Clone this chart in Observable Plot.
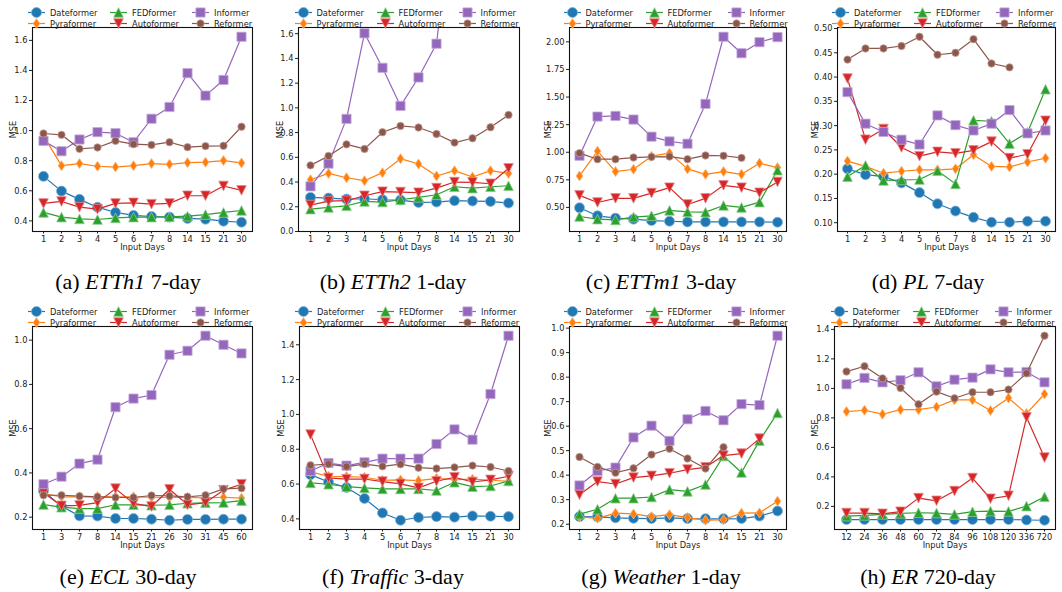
<!DOCTYPE html>
<html><head><meta charset="utf-8">
<script src="https://cdn.jsdelivr.net/npm/d3@7"></script>
<script src="https://cdn.jsdelivr.net/npm/@observablehq/plot@0.6"></script>
<style>
body{margin:0;background:#fff;}
#root{position:relative;width:1062px;height:592px;overflow:hidden;background:#fff;}
.panel{position:absolute;}
.legend{position:absolute;display:grid;grid-auto-flow:column;grid-template-rows:11px 11px;grid-template-columns:82px 82px 70px;font-family:"DejaVu Sans Condensed","DejaVu Sans",sans-serif;font-size:9.2px;color:#222;}
.legend .item{display:flex;align-items:center;white-space:nowrap;height:11px;}
.legend svg{margin-right:5px;overflow:visible;flex:none;}
.cap{position:absolute;font-family:"Liberation Serif","Times New Roman",serif;font-size:22px;line-height:22px;white-space:nowrap;transform:translateX(-50%);color:#000;}
</style></head><body><div id="root"></div>
<script>
// ---------- categories ----------
const seriesNames = ["Dateformer","Pyraformer","FEDformer","Autoformer","Informer","Reformer"];
const seriesColors = ["#1f77b4","#ff7f0e","#2ca02c","#d62728","#9467bd","#8c564b"];
const xDays = ["1","2","3","4","5","6","7","8","14","15","21","30"];
const xECL = ["1","3","7","8","14","15","21","26","30","31","45","60"];
const xER = ["12","24","36","48","60","72","84","96","108","120","336","720"];
const capLabels = ["(a)","(b)","(c)","(d)","(e)","(f)","(g)","(h)"];
const capNames = ["ETTh1","ETTh2","ETTm1","PL","ECL","Traffic","Weather","ER"];
const capHorizons = ["7-day","1-day","3-day","7-day","30-day","3-day","1-day","720-day"];

// ---------- values (MSE) ----------
const etth1_Dateformer = [0.696,0.598,0.543,0.491,0.456,0.436,0.429,0.425,0.416,0.411,0.398,0.391];
const etth1_Pyraformer = [0.965,0.767,0.781,0.763,0.758,0.767,0.781,0.776,0.787,0.790,0.801,0.785];
const etth1_FEDformer = [0.456,0.425,0.413,0.409,0.420,0.425,0.425,0.427,0.431,0.442,0.456,0.469];
const etth1_Autoformer = [0.516,0.529,0.491,0.478,0.516,0.520,0.511,0.516,0.567,0.567,0.632,0.603];
const etth1_Informer = [0.932,0.863,0.941,0.990,0.983,0.923,1.079,1.157,1.382,1.233,1.337,1.624];
const etth1_Reformer = [0.981,0.972,0.879,0.888,0.932,0.910,0.905,0.923,0.890,0.897,0.899,1.026];

const etth2_Dateformer = [0.276,0.270,0.262,0.265,0.257,0.254,0.235,0.238,0.249,0.246,0.243,0.230];
const etth2_Pyraformer = [0.419,0.470,0.435,0.411,0.476,0.589,0.546,0.449,0.492,0.441,0.492,0.470];
const etth2_FEDformer = [0.181,0.195,0.208,0.243,0.238,0.257,0.276,0.297,0.362,0.351,0.362,0.370];
const etth2_Autoformer = [0.214,0.246,0.249,0.289,0.322,0.319,0.314,0.351,0.400,0.397,0.386,0.511];
const etth2_Informer = [0.365,0.549,0.911,1.603,1.324,1.016,1.246,1.519,2.75,2.55,2.85,3.10];
const etth2_Reformer = [0.535,0.611,0.705,0.668,0.803,0.854,0.841,0.789,0.719,0.754,0.843,0.943];

const ettm1_Dateformer = [0.497,0.424,0.403,0.394,0.381,0.375,0.369,0.369,0.369,0.369,0.369,0.366];
const ettm1_Pyraformer = [0.785,1.010,0.825,0.846,0.964,0.992,0.849,0.800,0.825,0.800,0.901,0.861];
const ettm1_FEDformer = [0.418,0.394,0.387,0.412,0.424,0.473,0.460,0.457,0.518,0.500,0.548,0.837];
const ettm1_Autoformer = [0.609,0.545,0.582,0.582,0.630,0.679,0.527,0.582,0.700,0.679,0.633,0.731];
const ettm1_Informer = [0.968,1.323,1.329,1.296,1.141,1.098,1.077,1.438,2.046,1.897,1.997,2.043];
const ettm1_Reformer = [0.992,0.937,0.937,0.952,0.958,0.961,0.937,0.971,0.968,0.949];

const pl_Dateformer = [0.211,0.199,0.195,0.182,0.162,0.139,0.124,0.111,0.101,0.101,0.103,0.103];
const pl_Pyraformer = [0.227,0.216,0.202,0.206,0.209,0.209,0.211,0.240,0.216,0.215,0.225,0.233];
const pl_FEDformer = [0.195,0.218,0.187,0.188,0.189,0.207,0.180,0.311,0.309,0.263,0.286,0.375];
const pl_Autoformer = [0.397,0.271,0.293,0.255,0.237,0.246,0.243,0.249,0.267,0.233,0.241,0.310];
const pl_Informer = [0.369,0.304,0.287,0.271,0.261,0.321,0.301,0.290,0.304,0.332,0.284,0.290];
const pl_Reformer = [0.436,0.459,0.459,0.464,0.483,0.446,0.450,0.478,0.428,0.420];

const ecl_Dateformer = [0.319,0.249,0.206,0.205,0.194,0.194,0.191,0.186,0.190,0.190,0.191,0.191];
const ecl_Pyraformer = [0.307,0.292,0.292,0.293,0.292,0.292,0.290,0.289,0.289,0.287,0.290,0.286];
const ecl_FEDformer = [0.257,0.245,0.239,0.239,0.256,0.256,0.254,0.256,0.263,0.265,0.266,0.275];
const ecl_Autoformer = [0.310,0.251,0.253,0.266,0.329,0.262,0.248,0.326,0.256,0.266,0.322,0.349];
const ecl_Informer = [0.349,0.383,0.442,0.460,0.697,0.736,0.752,0.934,0.952,1.020,0.979,0.940];
const ecl_Reformer = [0.299,0.299,0.295,0.292,0.289,0.289,0.298,0.296,0.292,0.299,0.328,0.331];

const traffic_Dateformer = [0.654,0.612,0.580,0.517,0.434,0.392,0.408,0.413,0.410,0.417,0.415,0.413];
const traffic_Pyraformer = [0.670,0.645,0.643,0.639,0.622,0.624,0.620,0.633,0.626,0.628,0.622,0.616];
const traffic_FEDformer = [0.607,0.599,0.585,0.578,0.572,0.572,0.572,0.563,0.610,0.585,0.589,0.618];
const traffic_Autoformer = [0.884,0.635,0.628,0.629,0.614,0.601,0.578,0.616,0.639,0.612,0.624,0.645];
const traffic_Informer = [0.675,0.721,0.706,0.725,0.746,0.746,0.746,0.830,0.914,0.855,1.117,1.452];
const traffic_Reformer = [0.708,0.715,0.700,0.715,0.702,0.714,0.694,0.689,0.696,0.706,0.698,0.675];

const weather_Dateformer = [0.231,0.230,0.226,0.224,0.223,0.226,0.223,0.222,0.222,0.223,0.233,0.254];
const weather_Pyraformer = [0.230,0.224,0.245,0.242,0.231,0.239,0.227,0.216,0.218,0.245,0.246,0.294];
const weather_FEDformer = [0.241,0.261,0.306,0.306,0.311,0.341,0.334,0.362,0.478,0.411,0.541,0.654];
const weather_Autoformer = [0.320,0.374,0.364,0.390,0.397,0.408,0.423,0.432,0.480,0.488,0.549];
const weather_Informer = [0.358,0.417,0.431,0.554,0.602,0.540,0.628,0.662,0.624,0.690,0.686,0.969];
const weather_Reformer = [0.474,0.434,0.410,0.428,0.484,0.508,0.468,0.427,0.514];

const er_Dateformer = [0.111,0.111,0.111,0.111,0.111,0.111,0.111,0.111,0.111,0.111,0.108,0.106];
const er_Pyraformer = [0.843,0.852,0.825,0.856,0.856,0.874,0.922,0.922,0.850,0.935,0.829,0.962];
const er_FEDformer = [0.134,0.139,0.146,0.153,0.157,0.155,0.146,0.164,0.168,0.166,0.202,0.265];
const er_Autoformer = [0.155,0.155,0.150,0.164,0.256,0.238,0.304,0.392,0.252,0.272,0.804,0.531];
const er_Informer = [1.028,1.071,1.041,1.055,1.109,1.014,1.059,1.073,1.129,1.109,1.111,1.041];
const er_Reformer = [1.114,1.150,1.068,1.003,0.892,0.978,0.933,0.974,0.974,0.992,1.102,1.357];

// ---------- tick labels ----------
const ticksETTh1 = [0.4,0.6,0.8,1.0,1.2,1.4,1.6];
const ticksETTh2 = [0,0.2,0.4,0.6,0.8,1.0,1.2,1.4,1.6];
const ticksETTm1 = [0.5,0.75,1.0,1.25,1.5,1.75,2.0];
const ticksPL = [0.10,0.15,0.20,0.25,0.30,0.35,0.40,0.45,0.50];
const ticksECL = [0.2,0.4,0.6,0.8,1.0];
const ticksTraffic = [0.4,0.6,0.8,1.0,1.2,1.4];
const ticksWeather = [0.2,0.3,0.4,0.5,0.6,0.7,0.8,0.9,1.0];
const ticksER = [0.2,0.4,0.6,0.8,1.0,1.2,1.4];

// ---------- layout ----------
const FONT = '"DejaVu Sans Condensed","DejaVu Sans",sans-serif';
const FS = 9.2;
const frameLefts = [32,298,569,837,32,299,569,834];
const frameRights = [252,519,786,1055,252,519,786,1055];
const rowTop = [27,326], rowBottom = [231,529];
const labelOffsets = [19.3,18,21.5,22,19.3,18.5,21,19];
const capCenters = [128,393,661,928];
const capBaselines = [289,584];

const tri = (s, dir) => ({draw(c){ c.moveTo(0,-dir*s); c.lineTo(s,dir*s); c.lineTo(-s,dir*s); c.closePath(); }});
const symbols = [
  {draw(c){ c.moveTo(5,0); c.arc(0,0,5,0,2*Math.PI); }},
  {draw(c){ c.moveTo(0,-5); c.lineTo(3.4,0); c.lineTo(0,5); c.lineTo(-3.4,0); c.closePath(); }},
  tri(4.8,1),
  tri(4.8,-1),
  {draw(c){ c.rect(-4.6,-4.6,9.2,9.2); }},
  {draw(c){ c.moveTo(3.7,0); c.arc(0,0,3.7,0,2*Math.PI); }}
];
const edgeColors = seriesColors.map(c => d3.interpolateRgb(c, "#fff")(0.45));

const panels = [
  {x: xDays, series: [etth1_Dateformer,etth1_Pyraformer,etth1_FEDformer,etth1_Autoformer,etth1_Informer,etth1_Reformer], ticks: ticksETTh1, fmt: ".1f"},
  {x: xDays, series: [etth2_Dateformer,etth2_Pyraformer,etth2_FEDformer,etth2_Autoformer,etth2_Informer,etth2_Reformer], ticks: ticksETTh2, fmt: ".1f", yDomain: [0,1.65]},
  {x: xDays, series: [ettm1_Dateformer,ettm1_Pyraformer,ettm1_FEDformer,ettm1_Autoformer,ettm1_Informer,ettm1_Reformer], ticks: ticksETTm1, fmt: ".2f"},
  {x: xDays, series: [pl_Dateformer,pl_Pyraformer,pl_FEDformer,pl_Autoformer,pl_Informer,pl_Reformer], ticks: ticksPL, fmt: ".2f"},
  {x: xECL, series: [ecl_Dateformer,ecl_Pyraformer,ecl_FEDformer,ecl_Autoformer,ecl_Informer,ecl_Reformer], ticks: ticksECL, fmt: ".1f"},
  {x: xDays, series: [traffic_Dateformer,traffic_Pyraformer,traffic_FEDformer,traffic_Autoformer,traffic_Informer,traffic_Reformer], ticks: ticksTraffic, fmt: ".1f"},
  {x: xDays, series: [weather_Dateformer,weather_Pyraformer,weather_FEDformer,weather_Autoformer,weather_Informer,weather_Reformer], ticks: ticksWeather, fmt: ".1f"},
  {x: xER, series: [er_Dateformer,er_Pyraformer,er_FEDformer,er_Autoformer,er_Informer,er_Reformer], ticks: ticksER, fmt: ".1f"}
];

const root = document.getElementById("root");

panels.forEach((p, i) => {
  const row = Math.floor(i / 4), col = i % 4;
  const ft = rowTop[row], fb = rowBottom[row];
  const fl = frameLefts[i], fr = frameRights[i];
  const mL = 45, mR = 6, mT = 4, mB = 30;
  let dom = p.yDomain;
  if (!dom) {
    const all = p.series.flat();
    const lo = d3.min(all), hi = d3.max(all), pad = (hi - lo) * 0.05;
    dom = [lo - pad, hi + pad];
  }
  const marks = [
    Plot.axisY(p.ticks, {tickFormat: d3.format(p.fmt), tickSize: 3, tickPadding: 2, fontSize: FS, label: null}),
    Plot.axisX({tickSize: 2.5, tickPadding: 1, fontSize: FS, label: null})
  ];
  p.series.forEach((vals, k) => {
    const data = vals.map((v, j) => ({x: p.x[j], y: v}));
    marks.push(Plot.line(data, {x: "x", y: "y", stroke: seriesColors[k], strokeWidth: 1.2, clip: true}));
    marks.push(Plot.dot(data, {x: "x", y: "y", symbol: symbols[k], fill: seriesColors[k], stroke: edgeColors[k], strokeWidth: 0.8, clip: true}));
  });
  marks.push(Plot.frame({stroke: "#111", strokeWidth: 1.1}));
  marks.push(Plot.text(["MSE"], {text: d => d, frameAnchor: "left", rotate: -90, dx: -labelOffsets[i], textAnchor: "middle", lineAnchor: "middle", fontSize: FS}));
  marks.push(Plot.text(["Input Days"], {text: d => d, frameAnchor: "bottom", dy: 16, textAnchor: "middle", lineAnchor: "middle", fontSize: FS}));

  const chart = Plot.plot({
    width: fr - fl + mL + mR,
    height: fb - ft + mT + mB,
    marginLeft: mL, marginRight: mR, marginTop: mT, marginBottom: mB,
    x: {type: "point", domain: p.x, padding: 0.5, label: null},
    y: {domain: dom, label: null},
    style: {fontFamily: FONT, fontSize: FS + "px", color: "#222", background: "transparent", overflow: "visible"},
    marks
  });
  const div = document.createElement("div");
  div.className = "panel";
  div.style.left = (fl - mL) + "px";
  div.style.top = (ft - mT) + "px";
  div.appendChild(chart);
  root.appendChild(div);

  // legend
  const leg = document.createElement("div");
  leg.className = "legend";
  leg.style.left = ((fl + fr) / 2 - 114) + "px";
  leg.style.top = (ft - 20.5) + "px";
  seriesNames.forEach((name, k) => {
    const item = document.createElement("div");
    item.className = "item";
    const svg = d3.create("svg").attr("width", 17).attr("height", 11);
    svg.append("line").attr("x1", 0).attr("x2", 17).attr("y1", 5.5).attr("y2", 5.5).attr("stroke", seriesColors[k]).attr("stroke-width", 1.2);
    svg.append("path").attr("d", d3.symbol(symbols[k])()).attr("transform", "translate(8.5,5.5)").attr("fill", seriesColors[k]).attr("stroke", edgeColors[k]).attr("stroke-width", 0.8);
    item.appendChild(svg.node());
    const span = document.createElement("span");
    span.textContent = name;
    item.appendChild(span);
    leg.appendChild(item);
  });
  root.appendChild(leg);

  // caption
  const cap = document.createElement("div");
  cap.className = "cap";
  cap.style.left = capCenters[col] + "px";
  cap.style.top = (capBaselines[row] - 18.4) + "px";
  cap.innerHTML = `${capLabels[i]} <i>${capNames[i]}</i> ${capHorizons[i]}`;
  root.appendChild(cap);
});
</script></body></html>
